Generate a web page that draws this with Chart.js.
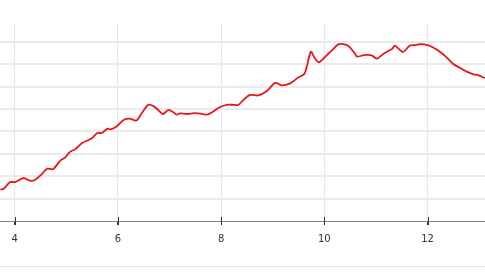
<!DOCTYPE html>
<html>
<head>
<meta charset="utf-8">
<script src="https://cdn.jsdelivr.net/npm/chart.js@4"></script>
<style>
  html, body { margin: 0; padding: 0; background: #fff; overflow: hidden; }
  #wrap { position: relative; width: 485px; height: 273px; overflow: hidden; }
  #grafico { display: block; }
  #rule { position: absolute; left: 0; top: 266px; width: 485px; height: 1px; background: #e4e4e4; }
</style>
</head>
<body>
<div id="wrap">
  <canvas id="grafico" width="485" height="273"></canvas>
  <div id="rule"></div>
</div>
<script>
// valores
const eixoX = [3.72, 3.78, 3.91, 4.01, 4.17, 4.30, 4.39, 4.52, 4.63, 4.74, 4.88, 4.98, 5.07, 5.17, 5.30, 5.43,
  5.51, 5.60, 5.69, 5.80, 5.86, 5.98, 6.11, 6.23, 6.36, 6.46, 6.59, 6.69, 6.78, 6.87, 6.98, 7.07, 7.14, 7.20,
  7.33, 7.49, 7.62, 7.72, 7.82, 7.98, 8.11, 8.24, 8.33, 8.43, 8.56, 8.72, 8.88, 9.05, 9.17, 9.34, 9.50, 9.61,
  9.66, 9.74, 9.82, 9.90, 10.05, 10.17, 10.27, 10.37, 10.47, 10.60, 10.63, 10.79, 10.92, 11.02, 11.14, 11.31,
  11.37, 11.52, 11.66, 11.76, 11.86, 12.00, 12.11, 12.24, 12.37, 12.50, 12.63, 12.76, 12.89, 12.98, 13.11];
const valores = [1.41, 1.43, 1.74, 1.74, 1.92, 1.80, 1.83, 2.08, 2.34, 2.31, 2.69, 2.84, 3.09, 3.20, 3.47, 3.62,
  3.72, 3.93, 3.93, 4.13, 4.09, 4.23, 4.51, 4.57, 4.49, 4.81, 5.19, 5.13, 4.96, 4.78, 4.96, 4.87, 4.75, 4.81,
  4.78, 4.82, 4.79, 4.75, 4.85, 5.09, 5.19, 5.19, 5.18, 5.40, 5.63, 5.61, 5.80, 6.17, 6.06, 6.15, 6.42, 6.56,
  6.89, 7.56, 7.26, 7.09, 7.41, 7.68, 7.89, 7.90, 7.81, 7.46, 7.34, 7.42, 7.40, 7.25, 7.46, 7.68,
  7.83, 7.55, 7.84, 7.86, 7.90, 7.86, 7.75, 7.56, 7.31, 7.01, 6.84, 6.67, 6.55, 6.52, 6.38];
const ticksX = [4, 6, 8, 10, 12];
const ticksY = [1, 2, 3, 4, 5, 6, 7, 8];

const pontos = [];
for (let i = 0; i < eixoX.length; i++) {
  pontos.push({ x: eixoX[i], y: valores[i] });
}

// marcas que cruzam o eixo
const marcasEixo = {
  id: 'marcasEixo',
  afterDraw(chart) {
    const sx = chart.scales.x;
    const ctx = chart.ctx;
    const base = chart.chartArea.bottom;
    ctx.save();
    ctx.strokeStyle = '#333';
    ctx.lineWidth = 1;
    ticksX.forEach(function (t) {
      const px = Math.round(sx.getPixelForValue(t)) + 0.5;
      ctx.beginPath();
      ctx.moveTo(px, base - 4);
      ctx.lineTo(px, base + 4);
      ctx.stroke();
    });
    ctx.restore();
  }
};

const config = {
  type: 'line',
  data: {
    datasets: [{
      label: 'Serie',
      data: pontos,
      borderColor: '#e8161c',
      borderWidth: 1.8,
      pointRadius: 0,
      fill: false,
      tension: 0.25
    }]
  },
  options: {
    responsive: false,
    animation: false,
    layout: { padding: { top: 24, left: 0, right: 0, bottom: 20 } },
    plugins: { legend: { display: false }, tooltip: { enabled: false } },
    scales: {
      x: {
        type: 'linear',
        min: 3.715,
        max: 13.114,
        afterBuildTicks: function (scale) {
          scale.ticks = ticksX.map(function (v) { return { value: v }; });
        },
        grid: {
          color: function (c) {
            return c.tick && ticksX.indexOf(c.tick.value) >= 0 ? '#e6e6e6' : 'rgba(0,0,0,0)';
          },
          lineWidth: 1, drawTicks: true, tickLength: 4, tickColor: '#333'
        },
        border: { display: true, color: '#858585', width: 1 },
        ticks: {
          padding: 8,
          color: '#333',
          font: { family: 'DejaVu Sans', size: 10 },
          maxRotation: 0
        }
      },
      y: {
        position: 'right',
        min: 0,
        max: 8.8,
        afterBuildTicks: function (scale) {
          scale.ticks = ticksY.map(function (v) { return { value: v }; });
        },
        grid: { color: '#ebebeb', lineWidth: 2, drawTicks: false },
        border: { display: false, width: 0 },
        ticks: { display: false }
      }
    }
  },
  plugins: [marcasEixo]
};

const ctx = document.getElementById('grafico').getContext('2d');
let grafico = new Chart(ctx, config);
</script>
</body>
</html>
